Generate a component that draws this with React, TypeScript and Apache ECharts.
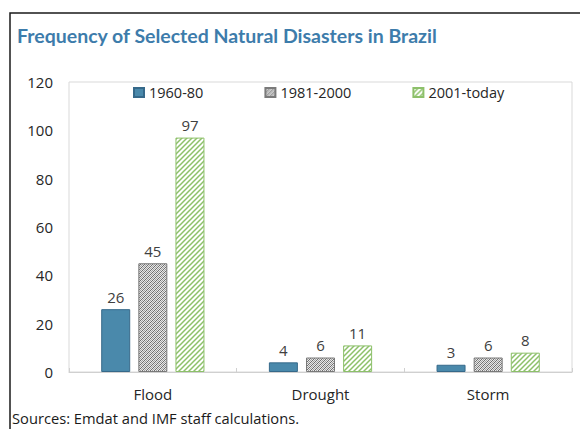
import React, { useEffect, useRef } from "react";
import * as echarts from "echarts";

const categories = ["Flood", "Drought", "Storm"];
const seriesNames = ["1960-80", "1981-2000", "2001-today"];
const values1960 = [26, 4, 3];
const values1981 = [45, 6, 6];
const values2001 = [97, 11, 8];
const yTicks = [0, 20, 40, 60, 80, 100, 120];

const FONT = "'Open Sans', sans-serif";
const TITLE_FONT = "Lato, 'Open Sans', sans-serif";

function grayPattern() {
  const n = 4;
  const c = document.createElement("canvas");
  c.width = n;
  c.height = n;
  const ctx = c.getContext("2d")!;
  ctx.fillStyle = "#e8e8e8";
  ctx.fillRect(0, 0, n, n);
  for (let x = 0; x < n; x++) {
    for (let y = 0; y < n; y++) {
      if ((x + y) % 2 === 0) {
        ctx.fillStyle = (x + y) % 4 === 0 ? "#6e6e6e" : "#a0a0a0";
        ctx.fillRect(x, y, 1, 1);
      }
    }
  }
  return c;
}

function greenPattern() {
  const p = 5;
  const c = document.createElement("canvas");
  c.width = p;
  c.height = p;
  const ctx = c.getContext("2d")!;
  ctx.fillStyle = "#ffffff";
  ctx.fillRect(0, 0, p, p);
  ctx.strokeStyle = "#8dc06a";
  ctx.lineWidth = 1.5;
  ctx.beginPath();
  ctx.moveTo(-1, p + 1);
  ctx.lineTo(p + 1, -1);
  ctx.moveTo(-1, 1);
  ctx.lineTo(1, -1);
  ctx.moveTo(p - 1, p + 1);
  ctx.lineTo(p + 1, p - 1);
  ctx.stroke();
  return c;
}

export default function App() {
  const ref = useRef<HTMLDivElement>(null);
  useEffect(() => {
    if (!ref.current) return;
    const chart = echarts.init(ref.current, undefined, { renderer: "svg" });
    const label = {
      show: true,
      position: "top" as const,
      distance: 5,
      color: "#404040",
      fontSize: 15,
      fontFamily: FONT,
    };
    const barCommon = {
      type: "bar" as const,
      barWidth: 29,
      barGap: "28%",
      label,
    };
    chart.setOption({
      animation: false,
      backgroundColor: "#ffffff",
      title: {
        text: "Frequency of Selected Natural Disasters in Brazil",
        left: 17,
        top: 25,
        padding: 0,
        textStyle: { color: "#3d7cab", fontSize: 19.5, fontWeight: "bold", fontFamily: TITLE_FONT },
      },
      legend: {
        left: 133,
        top: 85,
        padding: 0,
        icon: "rect",
        itemWidth: 10,
        itemHeight: 9,
        itemGap: 61,
        data: seriesNames,
        textStyle: { color: "#262626", fontSize: 14.5, fontFamily: FONT },
      },
      grid: {
        left: 69,
        top: 82,
        right: 8,
        bottom: 57,
        show: true,
        borderColor: "#d9d9d9",
        borderWidth: 1,
      },
      xAxis: {
        type: "category",
        data: categories,
        axisLine: { lineStyle: { color: "#d0d0d0" } },
        axisTick: { show: true, inside: true, length: 4, lineStyle: { color: "#d0d0d0" } },
        axisLabel: { color: "#262626", fontSize: 15, fontFamily: FONT, margin: 14 },
      },
      yAxis: {
        type: "value",
        min: yTicks[0],
        max: yTicks[yTicks.length - 1],
        interval: 20,
        axisLine: { show: false },
        axisTick: { show: false },
        splitLine: { show: false },
        axisLabel: { color: "#262626", fontSize: 15, fontFamily: FONT, margin: 16 },
      },
      graphic: [
        {
          type: "rect",
          shape: { x: 10, y: 13, width: 700, height: 600 },
          style: { fill: "none", stroke: "#1a1a1a", lineWidth: 1.5 },
          silent: true,
        },
        {
          type: "text",
          left: 12,
          top: 410,
          style: {
            text: "Sources: Emdat and IMF staff calculations.",
            fill: "#1a1a1a",
            fontSize: 14.7,
            fontFamily: FONT,
          },
        },
      ],
      series: [
        {
          ...barCommon,
          name: seriesNames[0],
          data: values1960,
          itemStyle: { color: "#4a89ab", borderColor: "#36698a", borderWidth: 1 },
        },
        {
          ...barCommon,
          name: seriesNames[1],
          data: values1981,
          itemStyle: {
            color: { image: grayPattern(), repeat: "repeat" },
            borderColor: "#7a7a7a",
            borderWidth: 1,
          },
        },
        {
          ...barCommon,
          name: seriesNames[2],
          data: values2001,
          itemStyle: {
            color: { image: greenPattern(), repeat: "repeat" },
            borderColor: "#8dc06a",
            borderWidth: 1,
          },
        },
      ],
    });
    return () => chart.dispose();
  }, []);
  return (
    <div
      ref={ref}
      style={{ position: "fixed", left: 0, top: 0, width: 580, height: 429 }}
    />
  );
}
